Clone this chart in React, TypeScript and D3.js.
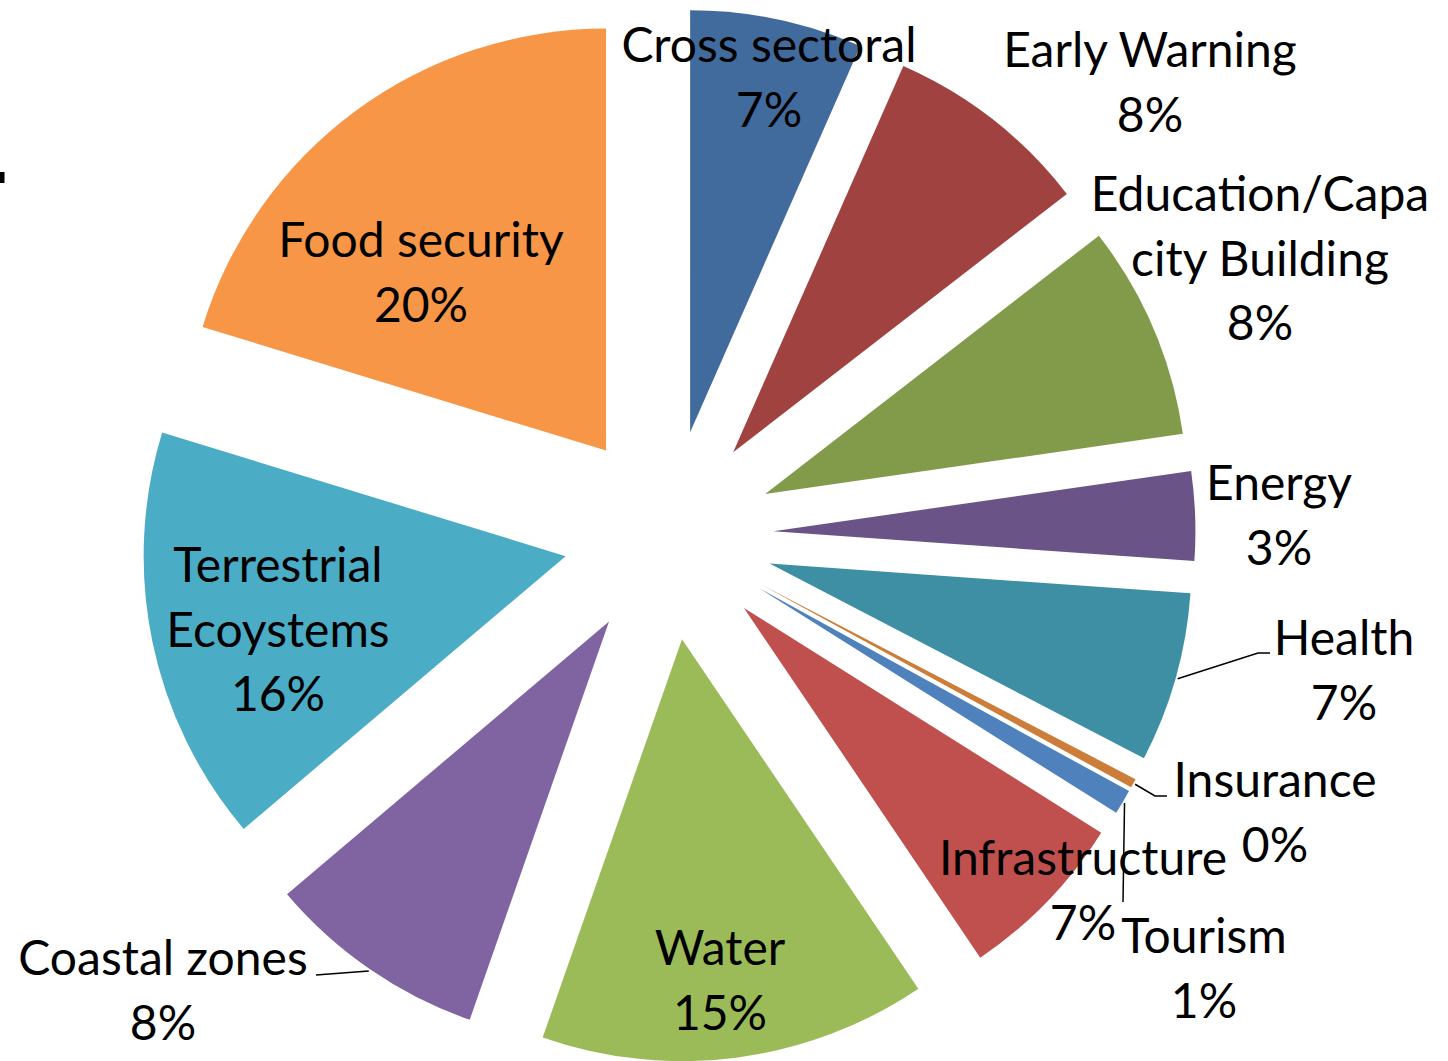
import React from 'react';
import * as d3 from 'd3';

// Share of adaptation projects by sector (in %)
const categories = [
  'Cross sectoral', 'Early Warning', 'Education/Capacity Building', 'Energy',
  'Health', 'Insurance', 'Tourism', 'Infrastructure', 'Water',
  'Coastal zones', 'Terrestrial Ecoystems', 'Food security',
];
const values = [6.6, 7.9, 8.2, 3.4, 6.5, 0.35, 0.95, 6.6, 14.8, 8.45, 15.9, 20.25];
// how Excel wrapped the category names
const labelLines = [
  ['Cross sectoral'], ['Early Warning'], ['Education/Capa', 'city Building'], ['Energy'],
  ['Health'], ['Insurance'], ['Tourism'], ['Infrastructure'], ['Water'],
  ['Coastal zones'], ['Terrestrial', 'Ecoystems'], ['Food security'],
];

const colors = [
  '#426B9D', '#9F4240', '#819B4A', '#6A5386', '#3E8FA4', '#CD7D3A',
  '#4F81BD', '#C0504D', '#9BBB59', '#8064A2', '#4BACC6', '#F79646',
];

// label placement: text centre x, first baseline y, optional leader line end points
const labelLayout: { x: number; y: number; leader?: [number, number][] }[] = [
  { x: 769, y: 62 },
  { x: 1150, y: 67 },
  { x: 1260, y: 211 },
  { x: 1279, y: 500 },
  { x: 1344, y: 655, leader: [[1258, 653], [1270, 653]] },
  { x: 1275, y: 797, leader: [[1155, 796], [1167, 796]] },
  { x: 1204, y: 953, leader: [[1123, 902]] },
  { x: 1083, y: 875 },
  { x: 720, y: 965 },
  { x: 163, y: 975, leader: [[316, 975]] },
  { x: 278, y: 582 },
  { x: 421, y: 257 },
];

const W = 1448;
const H = 1061;
const cx = 668.5;
const cy = 535;
const radius = 422;
const explode = 105;
const lineHeight = 64.5;

interface Slice { name: string; value: number; }

const App = () => {
  const data: Slice[] = categories.map((name, i) => ({ name, value: values[i] }));
  const total = d3.sum(values);

  const pie = d3.pie<Slice>().sort(null).value(d => d.value);
  const arc = d3.arc<d3.PieArcDatum<Slice>>().innerRadius(0).outerRadius(radius);
  const arcs = pie(data);

  const dir = (a: number): [number, number] => [Math.sin(a), -Math.cos(a)];

  return (
    <svg width={W} height={H} style={{ position: 'absolute', left: 0, top: 0, background: '#fff' }}>
      {/* clipped glyph at the left edge */}
      <rect x={0} y={172} width={4.5} height={11} fill="#000" />
      {arcs.map((a, i) => {
        const mid = (a.startAngle + a.endAngle) / 2;
        const [ux, uy] = dir(mid);
        return (
          <path
            key={a.data.name}
            d={arc(a) || ''}
            fill={colors[i]}
            transform={`translate(${cx + ux * explode},${cy + uy * explode})`}
          />
        );
      })}
      {arcs.map((a, i) => {
        const lay = labelLayout[i];
        if (!lay.leader) return null;
        const mid = (a.startAngle + a.endAngle) / 2;
        const [ux, uy] = dir(mid);
        const start: [number, number] = [cx + ux * (explode + radius + 2), cy + uy * (explode + radius + 2)];
        const pts = [start, ...lay.leader];
        return (
          <path
            key={'leader' + i}
            d={d3.line()(pts) || ''}
            fill="none"
            stroke="#000"
            strokeWidth={1.5}
          />
        );
      })}
      {arcs.map((a, i) => {
        const lay = labelLayout[i];
        const pct = Math.round((a.data.value / total) * 100) + '%';
        const lines = [...labelLines[i], pct];
        return (
          <text
            key={'label' + i}
            textAnchor="middle"
            fontFamily="Lato, 'Open Sans', sans-serif"
            fontSize={48}
            fill="#000"
          >
            {lines.map((t, j) => (
              <tspan key={j} x={lay.x} y={lay.y + j * lineHeight}>{t}</tspan>
            ))}
          </text>
        );
      })}
    </svg>
  );
};

export default App;
